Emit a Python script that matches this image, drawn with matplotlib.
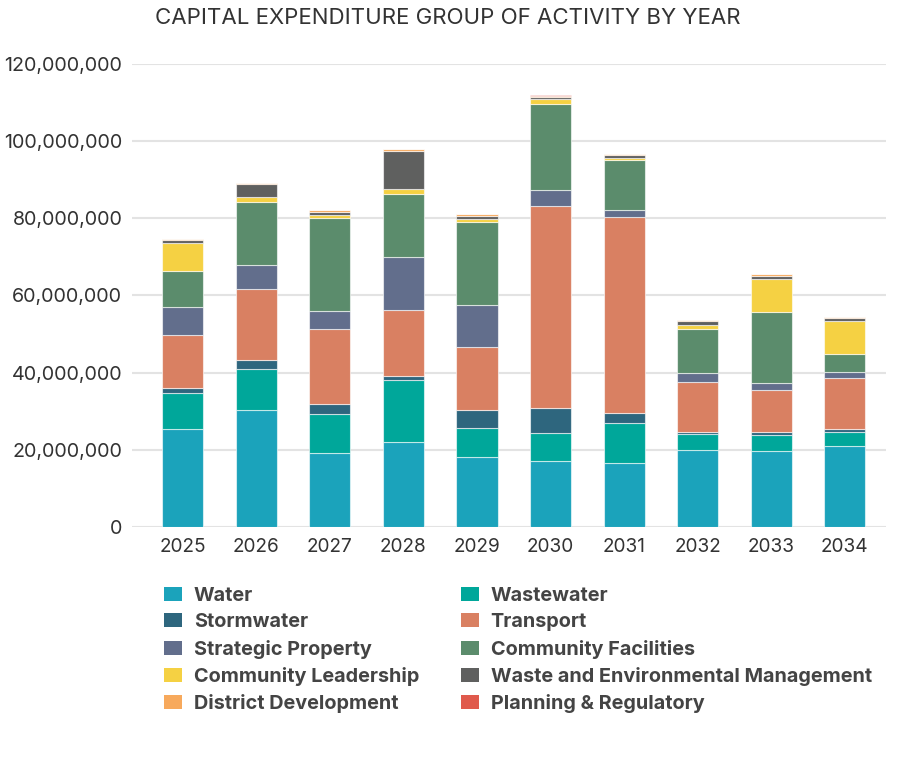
import numpy as np
import matplotlib
matplotlib.use("Agg")
import matplotlib.pyplot as plt
from matplotlib.ticker import FuncFormatter

plt.rcParams['font.family'] = ['Inter', 'DejaVu Sans']

years = ['2025', '2026', '2027', '2028', '2029', '2030', '2031', '2032', '2033', '2034']

# values in millions
water = [25.5, 30.2, 19.1, 21.9, 18.1, 17.0, 16.5, 19.9, 19.6, 20.9]
wastewater = [9.2, 10.8, 10.1, 16.1, 7.5, 7.3, 10.4, 4.1, 4.2, 3.6]
stormwater = [1.2, 2.2, 2.7, 1.2, 4.7, 6.5, 2.6, 0.7, 0.7, 0.8]
transport = [13.8, 18.4, 19.4, 17.0, 16.3, 52.3, 50.9, 12.9, 11.0, 13.2]
strategic_property = [7.2, 6.2, 4.7, 13.7, 10.9, 4.3, 1.7, 2.3, 1.7, 1.6]
community_facilities = [9.4, 16.5, 24.0, 16.4, 21.5, 22.1, 12.9, 11.4, 18.5, 4.7]
community_leadership = [7.4, 1.1, 0.8, 1.4, 0.8, 1.4, 0.6, 1.1, 8.7, 8.5]
waste_env = [0.7, 3.4, 0.9, 9.7, 0.9, 0.6, 0.7, 0.9, 0.7, 0.9]
district_development = [0.3, 0.4, 0.4, 0.5, 0.4, 0.3, 0.3, 0.3, 0.4, 0.2]
planning_regulatory = [0.05, 0.05, 0.05, 0.05, 0.05, 0.05, 0.05, 0.05, 0.05, 0.05]

series = [
    ('Water', water, '#1ba3bb'),
    ('Wastewater', wastewater, '#00a79a'),
    ('Stormwater', stormwater, '#2e667e'),
    ('Transport', transport, '#d98062'),
    ('Strategic Property', strategic_property, '#626e8c'),
    ('Community Facilities', community_facilities, '#5b8c6c'),
    ('Community Leadership', community_leadership, '#f5d143'),
    ('Waste and Environmental Management', waste_env, '#5f605f'),
    ('District Development', district_development, '#f7a95c'),
    ('Planning & Regulatory', planning_regulatory, '#e05a4c'),
]

fig = plt.figure(figsize=(8.98, 7.69), dpi=100)
ax = fig.add_axes([0.147, 0.3147, 0.8396, 0.6021])

x = np.arange(len(years))
bottom = np.zeros(len(years))
handles = {}
for name, vals, color in series:
    v = np.array(vals) * 1e6
    b = ax.bar(x, v, 0.56, bottom=bottom, color=color, edgecolor=(1, 1, 1, 0.6),
               linewidth=0.8, label=name, zorder=3)
    handles[name] = b
    bottom += v

ax.set_ylim(0, 120e6)
ax.set_xlim(-0.69, 9.56)
ax.set_yticks(np.arange(0, 120e6 + 1, 20e6))
ax.yaxis.set_major_formatter(FuncFormatter(lambda v, p: f'{int(v):,}'))
ax.set_xticks(x)
ax.set_xticklabels(years)
ax.grid(axis='y', color='#e3e3e3', linewidth=1.5, zorder=0)
for s in ax.spines.values():
    s.set_visible(False)
ax.tick_params(axis='y', length=0, labelsize=14.2, colors='#333333', pad=7)
ax.tick_params(axis='x', length=0, labelsize=13.7, colors='#333333', pad=8)

fig.text(0.499, 0.977, 'CAPITAL EXPENDITURE GROUP OF ACTIVITY BY YEAR',
         ha='center', va='center', fontsize=16, color='#333333')

# legend reads row-wise in the reference, matplotlib fills columns
col1 = ['Water', 'Stormwater', 'Strategic Property', 'Community Leadership', 'District Development']
col2 = ['Wastewater', 'Transport', 'Community Facilities', 'Waste and Environmental Management', 'Planning & Regulatory']
order = col1 + col2
leg = fig.legend([handles[n] for n in order], order, ncol=2, loc='upper left',
                 bbox_to_anchor=(0.1737, 0.247), frameon=False,
                 prop={'size': 14.3, 'weight': 'bold'}, handlelength=0.9, handleheight=0.7,
                 handletextpad=0.6, columnspacing=2.1, labelspacing=0.42, borderaxespad=0)
for t in leg.get_texts():
    t.set_color('#444444')
for h in leg.legend_handles:
    h.set_edgecolor('none')

fig.savefig('out.png', dpi=100)
